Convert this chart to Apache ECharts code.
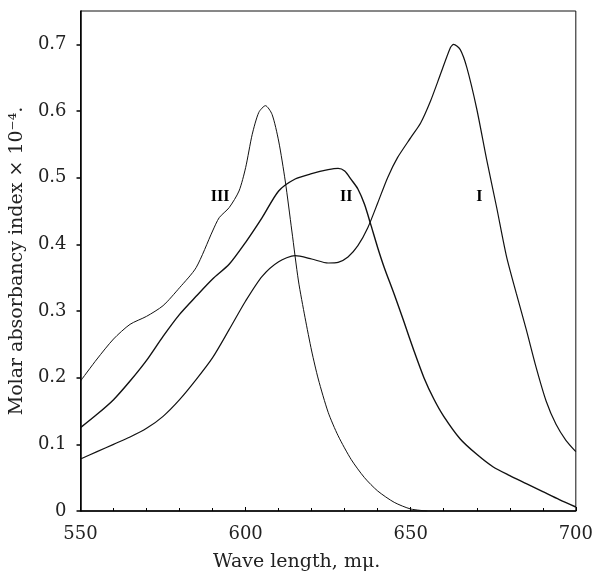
<!DOCTYPE html>
<html>
<head>
<meta charset="utf-8">
<script src="https://cdn.jsdelivr.net/npm/echarts@6/dist/echarts.min.js"></script>
<style>
  html, body { margin: 0; padding: 0; background: #fff; }
  #chart { width: 596px; height: 578px; }
</style>
</head>
<body>
<div id="chart"></div>
<script>
// wave length (mμ) / absorbancy pairs
const curveI = [
  [550, 0.078], [555, 0.089], [560, 0.100], [565, 0.111], [570, 0.124],
  [575, 0.142], [580, 0.167], [585, 0.197], [590, 0.230], [595, 0.272],
  [600, 0.315], [605, 0.352], [610, 0.374], [615, 0.383], [620, 0.378],
  [625, 0.372], [628, 0.373], [631, 0.381], [634, 0.398], [637, 0.425],
  [640, 0.462], [643, 0.500], [646, 0.530], [650, 0.560], [653, 0.582],
  [656, 0.615], [659, 0.655], [662, 0.695], [663, 0.700], [665, 0.692],
  [667, 0.665], [670, 0.603], [673, 0.527], [676, 0.456], [679, 0.382],
  [682, 0.326], [685, 0.272], [688, 0.215], [691, 0.165], [694, 0.130],
  [697, 0.106], [700, 0.089]
];
const curveII = [
  [550, 0.125], [555, 0.145], [560, 0.167], [565, 0.195], [570, 0.226],
  [575, 0.262], [580, 0.295], [585, 0.322], [590, 0.348], [595, 0.370],
  [600, 0.403], [605, 0.440], [610, 0.480], [615, 0.498], [620, 0.506],
  [625, 0.512], [628, 0.514], [630, 0.510], [632, 0.497], [634, 0.483],
  [636, 0.460], [638, 0.428], [640, 0.395], [642, 0.365], [645, 0.325],
  [648, 0.283], [651, 0.240], [654, 0.200], [657, 0.168], [660, 0.142],
  [665, 0.108], [670, 0.085], [675, 0.066], [680, 0.053], [685, 0.041],
  [690, 0.029], [695, 0.017], [700, 0.006]
];
const curveIII = [
  [550, 0.195], [555, 0.228], [560, 0.258], [565, 0.280], [570, 0.292],
  [575, 0.308], [580, 0.335], [585, 0.365], [590, 0.420], [592, 0.440],
  [595, 0.455], [598, 0.480], [600, 0.515], [602, 0.565], [604, 0.598],
  [606, 0.608], [608, 0.595], [610, 0.555], [612, 0.495], [614, 0.420],
  [616, 0.345], [618, 0.290], [620, 0.240], [622, 0.198], [625, 0.148],
  [628, 0.113], [632, 0.077], [636, 0.050], [640, 0.030], [645, 0.013],
  [650, 0.003], [655, 0]
];
const curveNames = ['I', 'II', 'III'];
const labelPos = [[670.8, 0.471], [630.5, 0.471], [592.3, 0.471]];
const xTicks = [550, 600, 650, 700];

const chart = echarts.init(document.getElementById('chart'));

function curve(name, data, idx, width) {
  return {
    name: name,
    type: 'line',
    data: data,
    smooth: 0.25,
    symbol: 'none',
    lineStyle: { color: '#111', width: width },
    markPoint: {
      symbol: 'circle',
      symbolSize: 0,
      data: [{ coord: labelPos[idx] }],
      label: {
        show: true,
        position: 'inside',
        formatter: name,
        color: '#000',
        fontFamily: 'Liberation Serif',
        fontWeight: 'bold',
        fontSize: 16
      }
    }
  };
}

chart.setOption({
  animation: false,
  backgroundColor: '#fff',
  grid: { left: 79, right: 13, top: 11, bottom: 67, show: true, borderColor: '#111', borderWidth: 1 },
  xAxis: {
    type: 'value',
    min: 550, max: 700, interval: 50,
    axisLine: { lineStyle: { color: '#000', width: 1.5 } },
    axisTick: { inside: true, length: 4, lineStyle: { color: '#000' } },
    minorTick: { show: true, splitNumber: 5, length: 3, lineStyle: { color: '#000' } },
    splitLine: { show: false },
    axisLabel: {
      margin: 14,
      color: '#222',
      fontFamily: 'DejaVu Serif',
      fontSize: 18,
      formatter: v => (xTicks.indexOf(v) >= 0 ? String(v) : '')
    }
  },
  yAxis: {
    type: 'value',
    min: 0, max: 0.75, interval: 0.1,
    axisLine: { show: true, lineStyle: { color: '#000', width: 1.5 } },
    axisTick: { length: 4, lineStyle: { color: '#000', width: 1.5 } },
    splitLine: { show: false },
    name: 'Molar absorbancy index × 10⁻⁴.',
    nameLocation: 'middle',
    nameGap: 50,
    nameTextStyle: { color: '#222', fontFamily: 'DejaVu Serif', fontSize: 19 },
    axisLabel: {
      margin: 14,
      showMaxLabel: false,
      color: '#222',
      fontFamily: 'DejaVu Serif',
      fontSize: 18,
      formatter: v => (v === 0 ? '0' : (Math.round(v * 10) / 10).toString())
    }
  },
  graphic: [{
    type: 'text',
    left: 213,
    top: 553,
    style: {
      text: 'Wave length, mμ.',
      fill: '#222',
      font: '19px "DejaVu Serif"'
    }
  }],
  series: [
    curve('I', curveI, 0, 1.2),
    curve('II', curveII, 1, 1.4),
    curve('III', curveIII, 2, 1)
  ]
});
</script>
</body>
</html>
